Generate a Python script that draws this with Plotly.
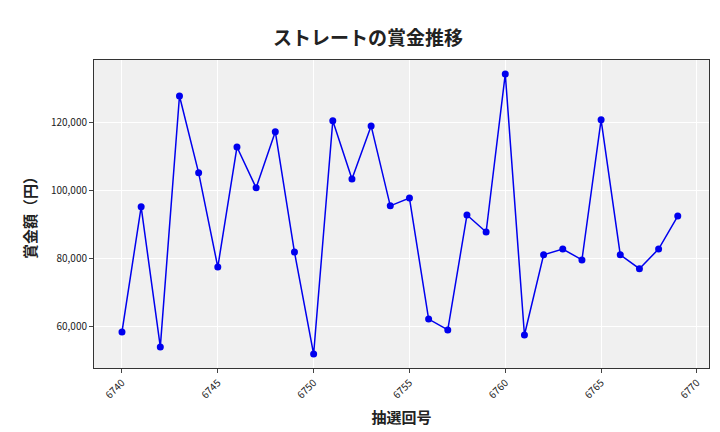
import plotly.graph_objects as go

draws = list(range(6740, 6770))
prizes = [58500, 95300, 54100, 127900, 105300, 77600, 112900, 100900, 117400, 82000,
          52000, 120600, 103500, 119100, 95600, 97900, 62300, 59100, 92900, 87900,
          134400, 57600, 81200, 82900, 79700, 120900, 81200, 77100, 82900, 92600]
x_ticks = [6740, 6745, 6750, 6755, 6760, 6765, 6770]
y_ticks = [60000, 80000, 100000, 120000]

font = "Noto Sans CJK JP"

fig = go.Figure(go.Scatter(
    x=draws, y=prizes, mode="lines+markers",
    line={"color": "#0000ee", "width": 1.5},
    marker={"color": "#0000ee", "size": 7},
))
fig.update_layout(
    width=720, height=432,
    paper_bgcolor="white", plot_bgcolor="#f0f0f0",
    margin={"l": 86, "r": 19, "t": 52, "b": 72},
    title={"text": "<b>ストレートの賞金推移</b>", "x": 0.5, "y": 0.945,
           "font": {"family": font, "size": 19, "color": "#222"}},
    font={"family": font, "color": "#222"},
    showlegend=False,
)
fig.update_xaxes(
    title_text="<b>抽選回号</b>", title_font={"size": 15}, title_standoff=12,
    range=[6738.54, 6770.63], tickvals=x_ticks, tickangle=-45,
    tickfont={"size": 10}, gridcolor="white", zeroline=False, automargin=False,
    showline=True, linecolor="#333", mirror=True, ticks="outside", ticklen=4,
)
fig.update_yaxes(
    title_text="<b>賞金額（円）</b>", title_font={"size": 15}, title_standoff=10,
    range=[47900, 138500], tickvals=y_ticks, tickformat=",",
    tickfont={"size": 10}, gridcolor="white", zeroline=False, automargin=False,
    showline=True, linecolor="#333", mirror=True, ticks="outside", ticklen=4,
)
fig.write_html("out.html")
